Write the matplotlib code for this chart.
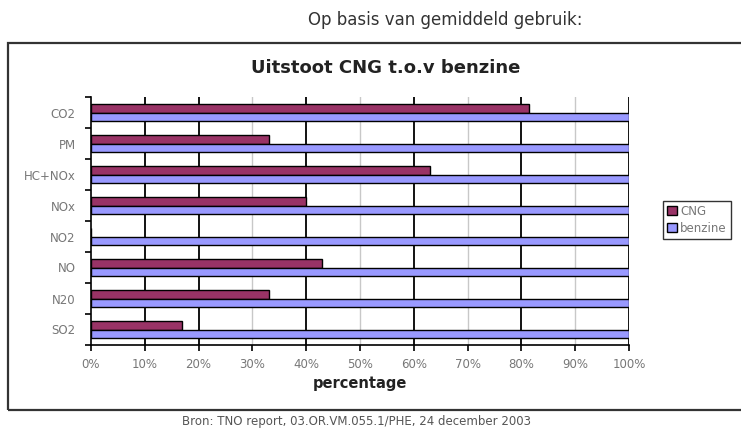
import numpy as np
import matplotlib.pyplot as plt
from matplotlib.patches import Rectangle
from matplotlib.ticker import FuncFormatter

CATEGORIES = ['CO2', 'PM', 'HC+NOx', 'NOx', 'NO2', 'NO', 'N20', 'SO2']
CNG = [81.5, 33, 63, 40, 0, 43, 33, 17]
BENZINE = [100, 100, 100, 100, 100, 100, 100, 100]
X_TICKS = [0, 10, 20, 30, 40, 50, 60, 70, 80, 90, 100]

plt.rcParams['font.family'] = ['DejaVu Sans']

fig = plt.figure(figsize=(7.41, 4.34), dpi=100)
fig.patch.set_facecolor('white')

# outer frame of the chart object
fig.patches.append(Rectangle((8 / 741, 1 - 410 / 434), 740 / 741, (410 - 43) / 434,
                             transform=fig.transFigure, fill=False,
                             edgecolor='#333333', linewidth=1.6))

ax = fig.add_axes([91 / 741, 1 - 345 / 434, 538 / 741, 248 / 434])

y = np.arange(len(CATEGORIES))
h = 0.29
ax.barh(y - h / 2, CNG, height=h, color='#993366', edgecolor='black', linewidth=1.0,
        label='CNG', zorder=3)
ax.barh(y + h / 2, BENZINE, height=h, color='#9999FF', edgecolor='black', linewidth=1.0,
        label='benzine', zorder=3)

for v in X_TICKS[1:]:
    dark = v in (10, 20, 40, 60, 80, 100)
    ax.axvline(v, color='black' if dark else '#c8c8c8', linewidth=1.3 if dark else 1.0, zorder=1)

ax.set_xlim(0, 100)
ax.set_ylim(len(CATEGORIES) - 0.5, -0.5)
ax.set_xticks(X_TICKS)
ax.xaxis.set_major_formatter(FuncFormatter(lambda v, p: f'{v:.0f}%'))
ax.set_yticks(y)
ax.set_yticklabels(CATEGORIES)
ax.set_yticks(np.arange(len(CATEGORIES) + 1) - 0.5, minor=True)
ax.tick_params(axis='y', which='major', length=0, pad=11, labelsize=8.5, labelcolor='#777777')
ax.tick_params(axis='y', which='minor', length=4, width=1.2, color='black')
ax.tick_params(axis='x', length=4, width=1.2, color='black', labelsize=8.5,
               labelcolor='#777777', pad=5)

for s in ('top', 'right'):
    ax.spines[s].set_visible(False)
ax.spines['left'].set_linewidth(1.2)
ax.spines['bottom'].set_linewidth(1.2)

ax.set_xlabel('percentage', fontsize=10.5, fontweight='bold', labelpad=4, color='#222222')

ax.legend(loc='center left', bbox_to_anchor=(663 / 741, 1 - 220 / 434),
          bbox_transform=fig.transFigure, fontsize=8.5, frameon=True, fancybox=False,
          edgecolor='black', handlelength=0.8, handleheight=0.8, handletextpad=0.3,
          borderpad=0.35, labelspacing=0.35, borderaxespad=0, labelcolor='#777777')

fig.text(386 / 741, 1 - 68 / 434, 'Uitstoot CNG t.o.v benzine', ha='center', va='center',
         fontsize=13, fontweight='bold', color='#222222')
fig.text(445 / 741, 1 - 20 / 434, 'Op basis van gemiddeld gebruik:', ha='center',
         va='center', fontsize=12, color='#333333')
fig.text(357 / 741, 1 - 421 / 434, 'Bron: TNO report, 03.OR.VM.055.1/PHE, 24 december 2003',
         ha='center', va='center', fontsize=8.5, color='#555555')

fig.savefig('out.png', dpi=100)
